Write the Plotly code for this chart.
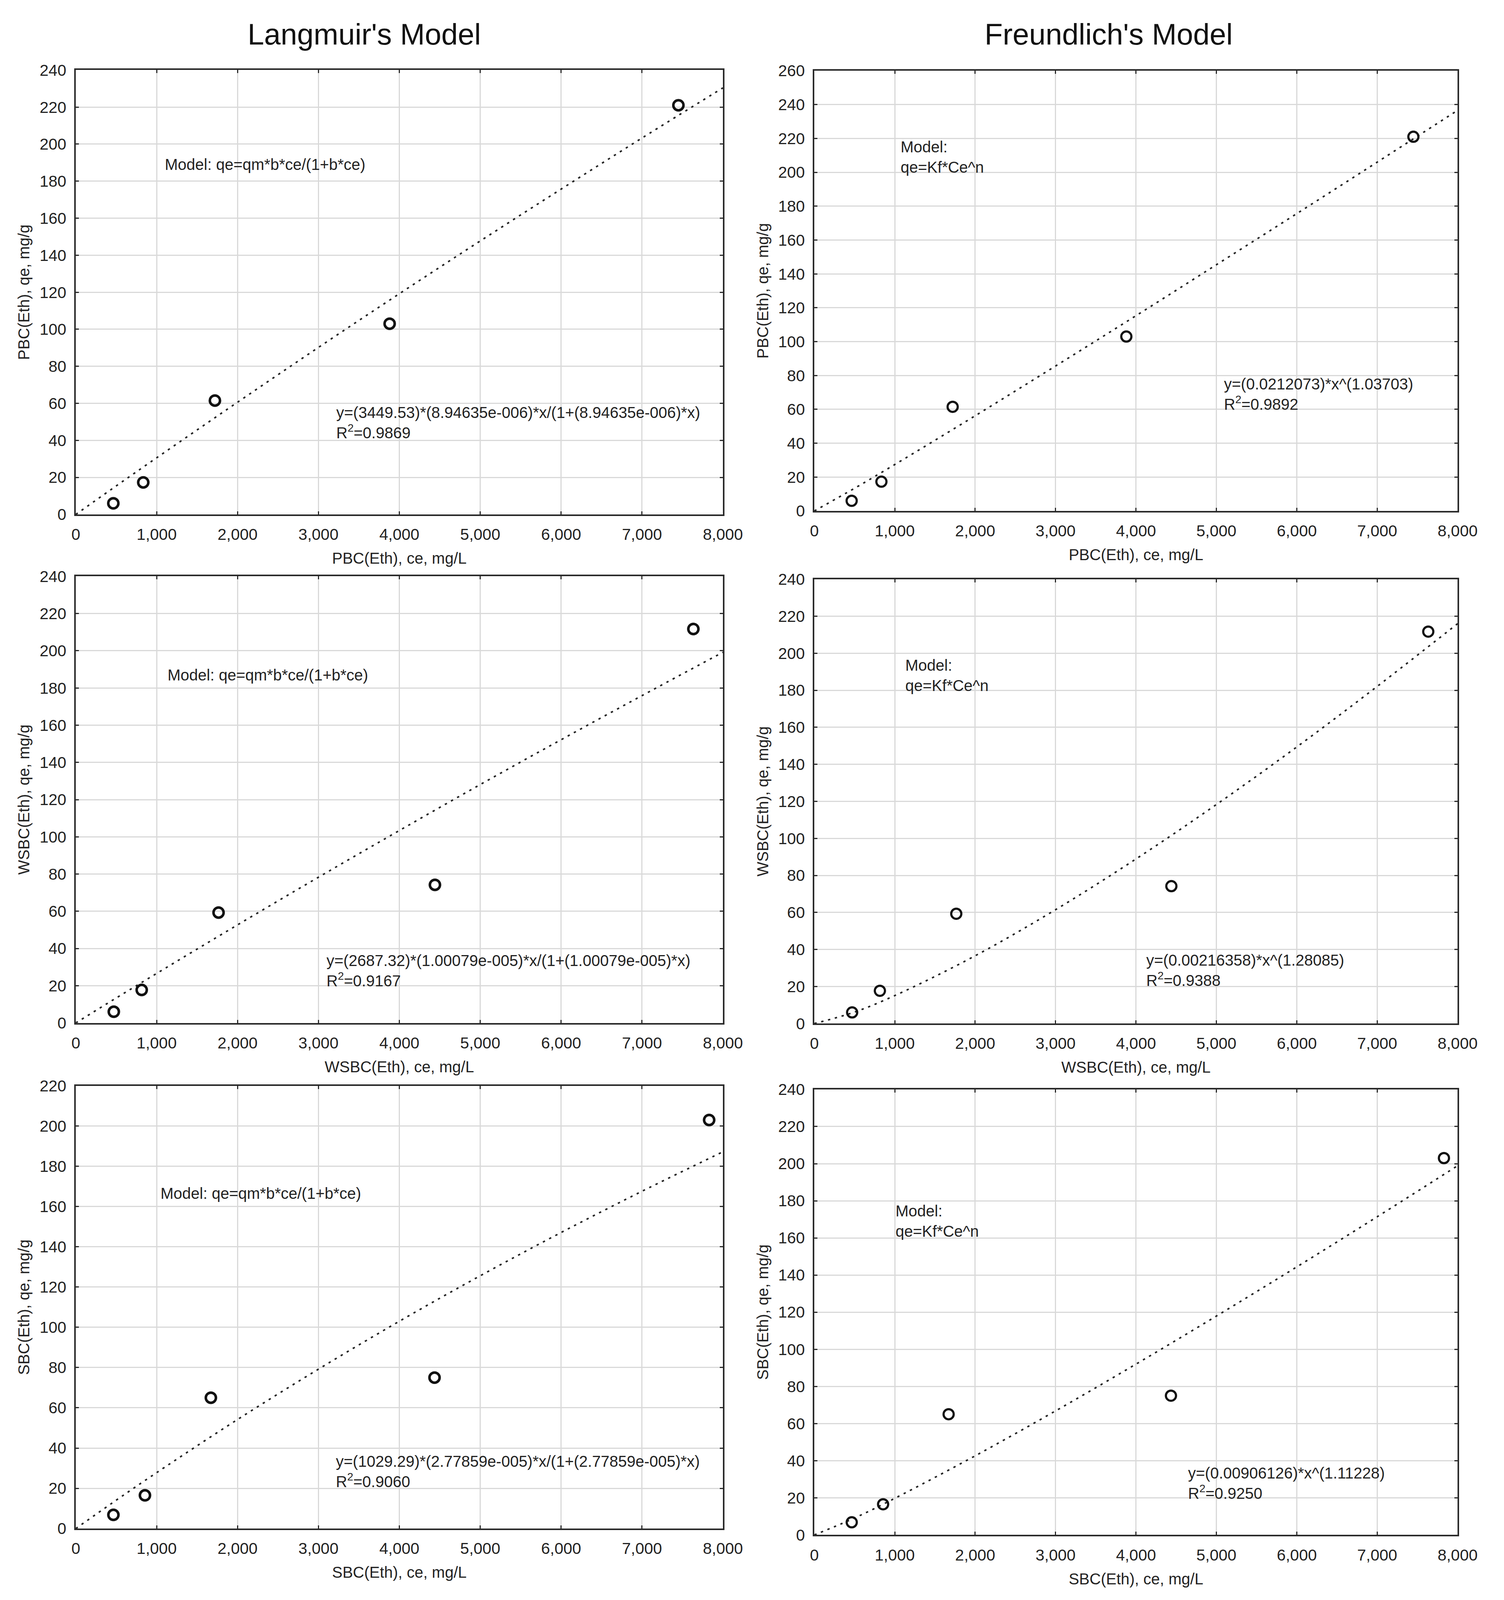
"""Langmuir and Freundlich isotherm fits for PBC, WSBC and SBC (ethanol)."""

import plotly.graph_objects as go
from plotly.subplots import make_subplots

# measured points (ce in mg/L, qe in mg/g)
pbc_ce = [464, 834, 1720, 3880, 7450]
pbc_qe = [6.0, 17.3, 61.5, 103.0, 221.0]
wsbc_ce = [470, 815, 1765, 4440, 7635]
wsbc_qe = [6.0, 17.7, 59.3, 74.2, 211.7]
sbc_ce = [465, 855, 1670, 4435, 7830]
sbc_qe = [6.8, 16.5, 65.0, 75.0, 203.0]

# fitted model curves
fit_ce = [0, 500, 1000, 2000, 3000, 4000, 5000, 6000, 7000, 8000]
lang_pbc = [0, 15.4, 30.6, 60.6, 90.2, 119.2, 147.7, 175.7, 203.3, 230.4]
lang_wsbc = [0, 13.4, 26.6, 52.7, 78.3, 103.4, 128.1, 152.2, 175.9, 199.2]
lang_sbc = [0, 14.1, 27.8, 54.2, 79.2, 103.0, 125.6, 147.1, 167.6, 187.2]
freu_pbc = [0, 13.4, 27.4, 56.2, 85.6, 115.3, 145.4, 175.6, 206.0, 236.6]
freu_wsbc = [0, 6.2, 15.1, 36.6, 61.5, 88.9, 118.3, 149.4, 182.1, 216.0]
freu_sbc = [0, 9.1, 19.7, 42.6, 66.8, 92.0, 117.9, 144.4, 171.4, 198.9]

col_titles = ["Langmuir's Model", "Freundlich's Model"]
x_titles = ["PBC(Eth), ce, mg/L", "WSBC(Eth), ce, mg/L", "SBC(Eth), ce, mg/L"]
y_titles = ["PBC(Eth), qe, mg/g", "WSBC(Eth), qe, mg/g", "SBC(Eth), qe, mg/g"]
y_max = [[240, 260], [240, 240], [220, 240]]

lang_model = "Model: qe=qm*b*ce/(1+b*ce)"
freu_model = "Model:<br>qe=Kf*Ce^n"
lang_eqs = [
    "y=(3449.53)*(8.94635e-006)*x/(1+(8.94635e-006)*x)<br>R<sup>2</sup>=0.9869",
    "y=(2687.32)*(1.00079e-005)*x/(1+(1.00079e-005)*x)<br>R<sup>2</sup>=0.9167",
    "y=(1029.29)*(2.77859e-005)*x/(1+(2.77859e-005)*x)<br>R<sup>2</sup>=0.9060",
]
freu_eqs = [
    "y=(0.0212073)*x^(1.03703)<br>R<sup>2</sup>=0.9892",
    "y=(0.00216358)*x^(1.28085)<br>R<sup>2</sup>=0.9388",
    "y=(0.00906126)*x^(1.11228)<br>R<sup>2</sup>=0.9250",
]
# annotation anchor points (data coords): model label, equation label
lang_pos = [((1090, 189), (3210, 49.5)), ((1125, 187), (3090, 28)), ((1040, 166.5), (3205, 28.3))]
freu_pos = [((1064, 209), (5086, 69)), ((1121, 188), (4120, 28.7)), ((1000, 169), (4638, 27.8))]

FONT = "Liberation Sans, Arial, sans-serif"
INK = "#222222"

# panel geometry in paper fractions
x_dom = [[0.0462, 0.4835], [0.5453, 0.9800]]
y_dom = [
    [[0.6828, 0.9634], [0.6850, 0.9630]],
    [[0.3617, 0.6437], [0.3613, 0.6419]],
    [[0.0424, 0.3220], [0.0384, 0.3197]],
]


def main() -> None:
    """Build the 3x2 grid of isotherm plots."""
    fig = make_subplots(rows=3, cols=2)

    rows = [
        (pbc_ce, pbc_qe, lang_pbc, freu_pbc),
        (wsbc_ce, wsbc_qe, lang_wsbc, freu_wsbc),
        (sbc_ce, sbc_qe, lang_sbc, freu_sbc),
    ]

    for r, (ce, qe, lang, freu) in enumerate(rows):
        for c, fit in enumerate([lang, freu]):
            fig.add_trace(
                go.Scatter(
                    x=fit_ce,
                    y=fit,
                    mode="lines",
                    line={"color": INK, "width": 4, "dash": "6px,12px", "shape": "spline"},
                    showlegend=False,
                ),
                row=r + 1,
                col=c + 1,
            )
            fig.add_trace(
                go.Scatter(
                    x=ce,
                    y=qe,
                    mode="markers",
                    marker={
                        "symbol": "circle-open",
                        "size": 26,
                        "color": "#111111",
                        "line": {"width": 6.5 if c == 0 else 5.5},
                    },
                    showlegend=False,
                ),
                row=r + 1,
                col=c + 1,
            )

            fig.update_xaxes(
                range=[0, 8000],
                dtick=1000,
                tickformat=",d",
                domain=x_dom[c],
                title={"text": x_titles[r], "standoff": 26, "font": {"size": 40}},
                ticklabelstandoff=12,
                row=r + 1,
                col=c + 1,
            )
            fig.update_yaxes(
                range=[0, y_max[r][c]],
                dtick=20,
                domain=y_dom[r][c],
                title={"text": y_titles[r], "standoff": 14, "font": {"size": 40}},
                ticklabelstandoff=12,
                row=r + 1,
                col=c + 1,
            )

            xref = fig.get_subplot(r + 1, c + 1).yaxis.anchor
            yref = fig.get_subplot(r + 1, c + 1).xaxis.anchor
            model_txt = lang_model if c == 0 else freu_model
            eq_txt = lang_eqs[r] if c == 0 else freu_eqs[r]
            pos = lang_pos[r] if c == 0 else freu_pos[r]
            for txt, (ax_x, ax_y) in zip([model_txt, eq_txt], pos):
                fig.add_annotation(
                    x=ax_x,
                    y=ax_y,
                    xref=xref,
                    yref=yref,
                    text=txt,
                    showarrow=False,
                    xanchor="left",
                    yanchor="middle",
                    align="left",
                    font={"family": FONT, "size": 40, "color": INK},
                )

    axis_style = {
        "showgrid": True,
        "gridcolor": "#d9d9d9",
        "gridwidth": 3,
        "showline": True,
        "linecolor": "#2a2a2a",
        "linewidth": 4,
        "mirror": "ticks",
        "ticks": "inside",
        "ticklen": 8,
        "tickwidth": 3,
        "tickcolor": "#2a2a2a",
        "zeroline": False,
        "tickfont": {"size": 41},
    }
    fig.update_xaxes(**axis_style)
    fig.update_yaxes(**axis_style)

    for x_c, txt in zip([0.2412, 0.7442], col_titles):
        fig.add_annotation(
            x=x_c,
            y=0.986,
            xref="paper",
            yref="paper",
            text=txt,
            showarrow=False,
            xanchor="center",
            yanchor="middle",
            font={"family": FONT, "size": 76, "color": "#111111"},
        )

    # the visible page area came out shorter than 4454 px, so keep the
    # whole grid inside it
    fig.update_layout(
        width=3851,
        height=4100,
        margin={"l": 0, "r": 0, "t": 0, "b": 0},
        paper_bgcolor="white",
        plot_bgcolor="white",
        font={"family": FONT, "size": 40, "color": INK},
    )

    fig.write_html("out.html")


if __name__ == "__main__":
    main()
